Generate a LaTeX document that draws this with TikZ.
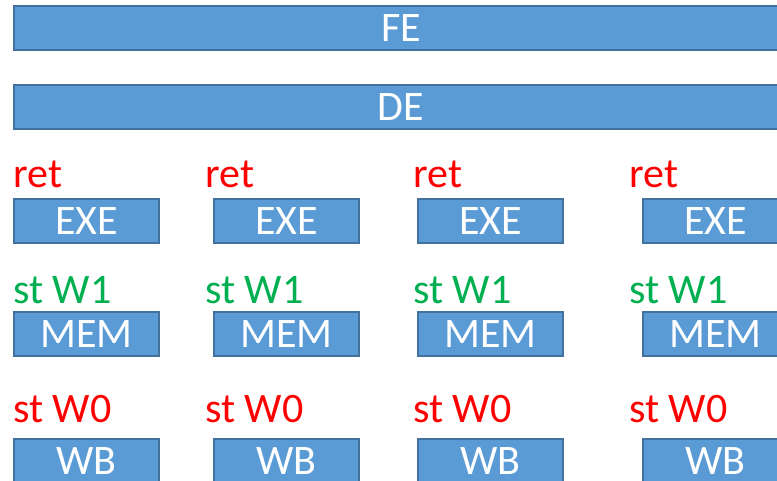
\documentclass[tikz,border=0pt]{standalone}
\usepackage{fontspec}
\setmainfont{Carlito}
\definecolor{boxfill}{HTML}{5B9BD5}
\definecolor{boxline}{HTML}{41719C}
\definecolor{lblred}{HTML}{FF0000}
\definecolor{lblgreen}{HTML}{00B050}
\begin{document}
\begin{tikzpicture}[x=1pt,y=-1pt,
  stage/.style={draw=boxline,line width=2.5pt,fill=boxfill,text=white,inner sep=0pt,
    minimum height=44pt,font=\fontsize{42}{46}\selectfont},
  small/.style={stage,minimum width=145pt},
  wide/.style={stage,minimum width=774pt},
  lbl/.style={anchor=base west,inner sep=0pt,font=\fontsize{42}{46}\selectfont},
  retl/.style={lbl,text=lblred},
  w1l/.style={lbl,text=lblgreen},
  w0l/.style={lbl,text=lblred}]
\useasboundingbox (0,0) rectangle (777,480);
\node[wide] (fe) at (401,28) {FE};
\node[wide] (de) at (401,107) {DE};
\foreach \i/\bx/\lx in {1/86.5/13, 2/286.5/205, 3/490.5/413, 4/715.5/629}{
  \node[retl] (ret\i) at (\lx,187) {ret};
  \node[small] (exe\i) at (\bx,221) {EXE};
  \node[w1l] (stw1\i) at (\lx,303) {st W1};
  \node[small] (mem\i) at (\bx,334) {MEM};
  \node[w0l] (stw0\i) at (\lx,422) {st W0};
  \node[small] (wb\i) at (\bx,461) {WB};
}
\end{tikzpicture}
\end{document}
